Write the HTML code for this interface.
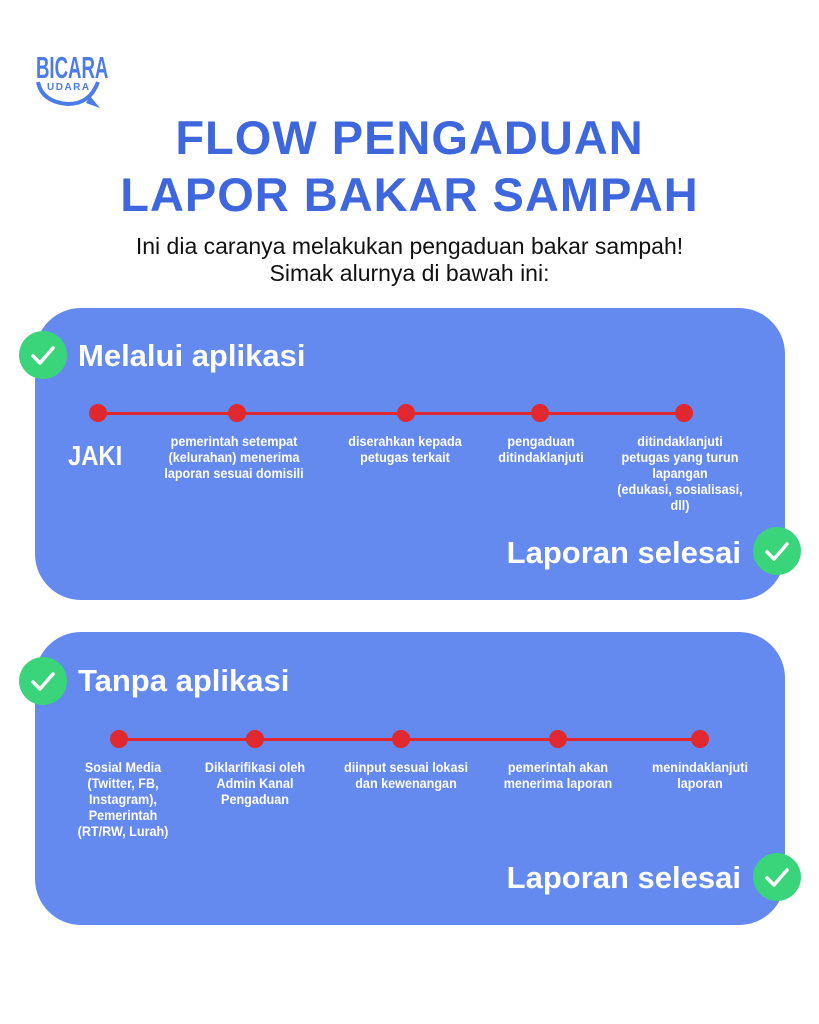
<!DOCTYPE html>
<html><head><meta charset="utf-8"><style>
*{margin:0;padding:0;box-sizing:border-box}
body{width:819px;height:1024px;background:#fff;position:relative;overflow:hidden;font-family:"Liberation Sans",sans-serif}
.a{position:absolute}
.card{position:absolute;left:35px;width:750px;background:#6489EF;border-radius:46px}
.title{position:absolute;left:0;width:819px;text-align:center;color:#3E66DD;font-weight:bold;font-size:47px;letter-spacing:1px;line-height:1}
.sub{position:absolute;left:0;width:819px;text-align:center;color:#111;font-size:23px;line-height:27px}
.chk{position:absolute;width:48px;height:48px;border-radius:50%;background:#3AD57A}
.chk svg{position:absolute;left:0;top:0}
.head{position:absolute;color:#fff;font-weight:bold;font-size:31px;line-height:1}
.line{position:absolute;height:3px;background:#E0282E}
.dot{position:absolute;width:18px;height:18px;border-radius:50%;background:#E0282E}
.lbl{position:absolute;width:200px;margin-left:-100px;text-align:center;color:#fff;font-weight:bold;font-size:14px;line-height:16px;white-space:nowrap;transform:scaleX(0.9)}
.done{position:absolute;right:78px;color:#fff;font-weight:bold;font-size:31px;line-height:1}
</style></head><body>
<div class="a" style="left:36px;top:52px;color:#4C7CE8;font-weight:bold;font-size:31px;line-height:1;transform:scaleX(0.6);transform-origin:left">BICARA</div>
<div class="a" style="left:47px;top:82px;color:#4C7CE8;font-weight:bold;font-size:10px;letter-spacing:1.5px">UDARA</div>
<svg class="a" style="left:34px;top:78px" width="70" height="34"><path d="M4 4 Q8 24 34 26 Q56 26 64 4" fill="none" stroke="#4C7CE8" stroke-width="4"/><path d="M56 18 L66 30 L52 25Z" fill="#4C7CE8"/></svg>

<div class="title" style="top:114px">FLOW PENGADUAN</div>
<div class="title" style="top:171px">LAPOR BAKAR SAMPAH</div>
<div class="sub" style="top:233px">Ini dia caranya melakukan pengaduan bakar sampah!<br>Simak alurnya di bawah ini:</div>

<div class="card" style="top:308px;height:292px"></div>
<div class="card" style="top:632px;height:293px"></div>

<div class="chk" style="left:19px;top:331px"><svg width="48" height="48"><path d="M14 25 L21 32 L34 17" fill="none" stroke="#fff" stroke-width="3.5" stroke-linecap="round" stroke-linejoin="round"/></svg></div>
<div class="head" style="left:78px;top:340px">Melalui aplikasi</div>
<div class="line" style="left:98px;width:586px;top:412px"></div>
<div class="dot" style="left:89px;top:404px"></div>
<div class="dot" style="left:228px;top:404px"></div>
<div class="dot" style="left:397px;top:404px"></div>
<div class="dot" style="left:531px;top:404px"></div>
<div class="dot" style="left:675px;top:404px"></div>
<div class="a" style="left:68px;top:440px;color:#fff;font-weight:bold;font-size:28px;transform:scaleX(0.85);transform-origin:left">JAKI</div>
<div class="lbl" style="left:234px;top:433px">pemerintah setempat<br>(kelurahan) menerima<br>laporan sesuai domisili</div>
<div class="lbl" style="left:405px;top:433px">diserahkan kepada<br>petugas terkait</div>
<div class="lbl" style="left:541px;top:433px">pengaduan<br>ditindaklanjuti</div>
<div class="lbl" style="left:680px;top:433px">ditindaklanjuti<br>petugas yang turun<br>lapangan<br>(edukasi, sosialisasi,<br>dll)</div>
<div class="done" style="top:537px">Laporan selesai</div>
<div class="chk" style="left:753px;top:527px"><svg width="48" height="48"><path d="M14 25 L21 32 L34 17" fill="none" stroke="#fff" stroke-width="3.5" stroke-linecap="round" stroke-linejoin="round"/></svg></div>

<div class="chk" style="left:19px;top:657px"><svg width="48" height="48"><path d="M14 25 L21 32 L34 17" fill="none" stroke="#fff" stroke-width="3.5" stroke-linecap="round" stroke-linejoin="round"/></svg></div>
<div class="head" style="left:78px;top:665px">Tanpa aplikasi</div>
<div class="line" style="left:119px;width:581px;top:738px"></div>
<div class="dot" style="left:110px;top:730px"></div>
<div class="dot" style="left:246px;top:730px"></div>
<div class="dot" style="left:392px;top:730px"></div>
<div class="dot" style="left:549px;top:730px"></div>
<div class="dot" style="left:691px;top:730px"></div>
<div class="lbl" style="left:123px;top:759px">Sosial Media<br>(Twitter, FB,<br>Instagram),<br>Pemerintah<br>(RT/RW, Lurah)</div>
<div class="lbl" style="left:255px;top:759px">Diklarifikasi oleh<br>Admin Kanal<br>Pengaduan</div>
<div class="lbl" style="left:406px;top:759px">diinput sesuai lokasi<br>dan kewenangan</div>
<div class="lbl" style="left:558px;top:759px">pemerintah akan<br>menerima laporan</div>
<div class="lbl" style="left:700px;top:759px">menindaklanjuti<br>laporan</div>
<div class="done" style="top:862px">Laporan selesai</div>
<div class="chk" style="left:753px;top:853px"><svg width="48" height="48"><path d="M14 25 L21 32 L34 17" fill="none" stroke="#fff" stroke-width="3.5" stroke-linecap="round" stroke-linejoin="round"/></svg></div>
</body></html>
